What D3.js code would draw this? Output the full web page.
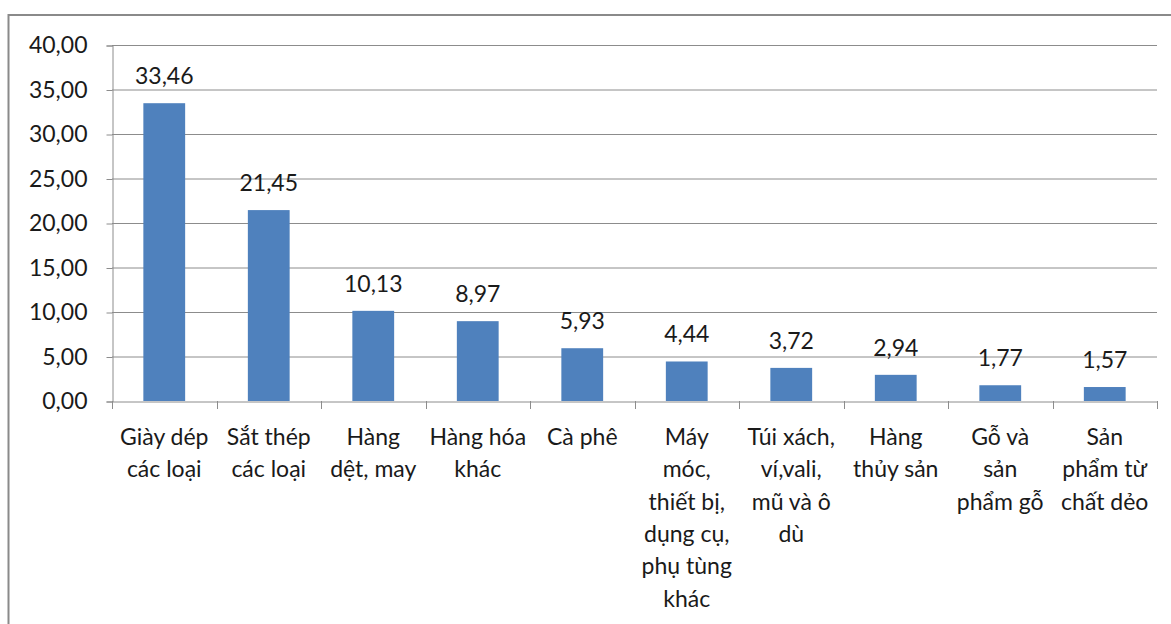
<!DOCTYPE html>
<html><head><meta charset="utf-8">
<script src="https://cdn.jsdelivr.net/npm/d3@7"></script>
<style>body{margin:0;background:#fff}svg{display:block}text{font-family:Lato,"Open Sans",sans-serif;fill:#1a1a1a}</style>
</head><body>
<svg id="c" width="1171" height="624"></svg>
<script>
const categories = ["Giày dép các loại","Sắt thép các loại","Hàng dệt, may","Hàng hóa khác","Cà phê","Máy móc, thiết bị, dụng cụ, phụ tùng khác","Túi xách, ví,vali, mũ và ô dù","Hàng thủy sản","Gỗ và sản phẩm gỗ","Sản phẩm từ chất dẻo"];
const labelLines = [["Giày dép","các loại"],["Sắt thép","các loại"],["Hàng","dệt, may"],["Hàng hóa","khác"],["Cà phê"],["Máy","móc,","thiết bị,","dụng cụ,","phụ tùng","khác"],["Túi xách,","ví,vali,","mũ và ô","dù"],["Hàng","thủy sản"],["Gỗ và","sản","phẩm gỗ"],["Sản","phẩm từ","chất dẻo"]];
const values = [33.46,21.45,10.13,8.97,5.93,4.44,3.72,2.94,1.77,1.57];
const yTicks = [0,5,10,15,20,25,30,35,40];

const svg = d3.select("#c");
const fmt = v => v.toFixed(2).replace(".", ",");
const L = 112, R = 1157, T = 45, B = 401;
const FS = "23px";

svg.append("rect").attr("x",8.5).attr("y",15).attr("width",1200).attr("height",700)
  .attr("fill","none").attr("stroke","#8a8a8a").attr("stroke-width",2);

const x = d3.scaleBand().domain(categories).range([L,R]).paddingInner(0.6).paddingOuter(0.3);
const xs = d3.scaleBand().domain(categories).range([L,R]);
const y = d3.scaleLinear().domain([0,40]).range([B,T]);

svg.append("g").selectAll("line").data(yTicks.filter(d=>d>0)).join("line")
  .attr("x1",L).attr("x2",R).attr("y1",d=>y(d)+0.5).attr("y2",d=>y(d)+0.5)
  .attr("stroke","#8c8c8c").attr("stroke-width",1);

const ya = svg.append("g").attr("transform",`translate(${L+0.5},0.5)`)
  .call(d3.axisLeft(y).tickValues(yTicks).tickFormat(fmt).tickSize(6).tickPadding(19));
ya.select(".domain").attr("stroke","#8c8c8c");
ya.selectAll(".tick line").attr("stroke","#8c8c8c");
ya.selectAll("text").style("font-size",FS).attr("fill","#1a1a1a").style("font-family","Lato");

svg.append("g").selectAll("rect").data(values).join("rect")
  .attr("x",(d,i)=>x(categories[i])).attr("width",x.bandwidth())
  .attr("y",d=>y(d)).attr("height",d=>B-y(d)).attr("fill","#4f81bd");

const xa = svg.append("g").attr("transform",`translate(0,${B+0.5})`)
  .call(d3.axisBottom(xs).tickSize(0).tickFormat(""));
xa.select(".domain").attr("stroke","#8c8c8c");
xa.selectAll(".tick").remove();
svg.append("g").selectAll("line").data(d3.range(categories.length+1)).join("line")
  .attr("x1",i=>Math.round(L+i*xs.step())+0.5).attr("x2",i=>Math.round(L+i*xs.step())+0.5)
  .attr("y1",B).attr("y2",B+8).attr("stroke","#8c8c8c");

svg.append("g").selectAll("text").data(values).join("text")
  .attr("x",(d,i)=>xs(categories[i])+xs.bandwidth()/2).attr("y",d=>y(d)-19)
  .attr("text-anchor","middle").style("font-size",FS).text(fmt);

const cl = svg.append("g").selectAll("text").data(labelLines).join("text")
  .attr("text-anchor","middle").style("font-size",FS)
  .attr("transform",(d,i)=>`translate(${xs(categories[i])+xs.bandwidth()/2},445)`);
cl.selectAll("tspan").data(d=>d).join("tspan").attr("x",0).attr("dy",(d,j)=>j?32.3:0).text(d=>d);
</script>
</body></html>
